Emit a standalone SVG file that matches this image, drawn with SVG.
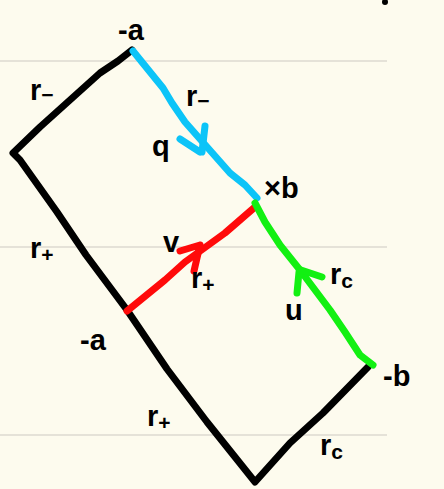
<svg xmlns="http://www.w3.org/2000/svg" width="444" height="489" viewBox="0 0 444 489">
<style>
.rule{stroke:#dcdad0;stroke-width:1.5;fill:none}
.ln{fill:none;stroke-width:7;stroke-linecap:round;stroke-linejoin:round}
.k{stroke:#000}
.b{stroke:#0cc4f8}
.r{stroke:#ff0a0a}
.g{stroke:#12f012}
.t{font-family:"Liberation Sans",Arial,sans-serif;font-weight:bold;font-size:29px;fill:#000}
.s{font-size:21px}
</style>
<rect width="444" height="489" fill="#fdfbee"/>
<g id="rules">
<line class="rule" x1="0" y1="61" x2="387" y2="61"/>
<line class="rule" x1="0" y1="247" x2="387" y2="247"/>
<line class="rule" x1="0" y1="435" x2="387" y2="435"/>
</g>
<g id="connectors">
<path class="ln k" d="M132,50 L118,61 L100,73 L40,127 L13,153 L20,160 L57,212 L86,255 L127,310 L167,369 L207,422 L255,482 L290,443 L323,413 L368,367"/>
<path class="ln b" d="M133,51 L163,88 L172,103 L185,122 L230,173 L245,185 L257,198"/>
<path class="ln b" d="M205,126 L202,152 M180,139 L200,152"/>
<path class="ln r" d="M127,311 L165,280 L185,262 L225,233 L255,207"/>
<path class="ln r" d="M180,251 L200,245 M194,271 L200,245"/>
<path class="ln g" d="M255,203 L265,222 L280,245 L300,270 L330,310 L345,332 L360,355 L373,365"/>
<path class="ln g" d="M297,293 L299,272 M322,277 L301,270"/>
<circle cx="385" cy="2" r="3" fill="#000"/>
</g>
<g id="labels">
<text class="t" x="118" y="40">-a</text>
<text class="t" x="30" y="100">r<tspan class="s" dy="2">−</tspan></text>
<text class="t" x="186" y="106">r<tspan class="s" dy="2">−</tspan></text>
<text class="t" x="152" y="156">q</text>
<text class="t" x="264" y="198">×b</text>
<text class="t" x="163" y="252">v</text>
<text class="t" x="30" y="258">r<tspan class="s" dy="4">+</tspan></text>
<text class="t" x="191" y="288">r<tspan class="s" dy="4">+</tspan></text>
<text class="t" x="330" y="284">r<tspan class="s" dy="4">c</tspan></text>
<text class="t" x="285" y="320">u</text>
<text class="t" x="80" y="350">-a</text>
<text class="t" x="383" y="386">-b</text>
<text class="t" x="147" y="426">r<tspan class="s" dy="4">+</tspan></text>
<text class="t" x="320" y="455">r<tspan class="s" dy="4">c</tspan></text>
</g>
</svg>
